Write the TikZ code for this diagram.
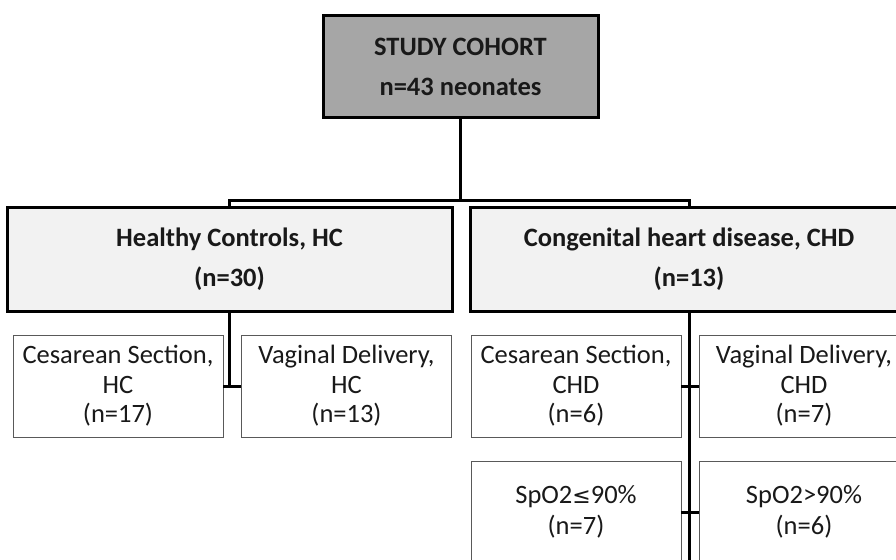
\documentclass[tikz,border=0pt]{standalone}
\usepackage{fontspec}
\setmainfont{Carlito}
\newfontfamily\symfont{DejaVu Sans}
\begin{document}
\begin{tikzpicture}[x=1pt,y=-1pt,
  txt/.style={text=black!90},
  bigbox/.style={draw=black, line width=3pt, inner sep=0pt, align=center, txt,
     font=\bfseries\fontsize{26.5}{39.5}\selectfont},
  smallbox/.style={draw=black!65, line width=0.9pt, fill=white, inner sep=0pt, align=center, txt,
     minimum width=210pt, minimum height=102pt, font=\fontsize{26.5}{29.5}\selectfont},
  conn/.style={draw=black, line width=3pt}]
\useasboundingbox (0,0) rectangle (896,559);
\clip (0,0) rectangle (896,559);
\fill[white] (0,0) rectangle (896,559);
% top
\node[bigbox, fill=black!35, minimum width=275pt, minimum height=102pt] (top) at (460.5,67) {STUDY COHORT\\n=43 neonates};
\node[bigbox, fill=black!5, minimum width=445pt, minimum height=104pt] (hc) at (229.5,259) {Healthy Controls, HC\\(n=30)};
\node[bigbox, fill=black!5, minimum width=438pt, minimum height=104pt] (chd) at (689,259) {Congenital heart disease, CHD\\(n=13)};
\coordinate (j) at (460.5,200);
\draw[conn] (top.south) -- (j);
\draw[conn] (hc.north) |- (j) -| (chd.north);
% HC children
\node[smallbox] (hcs) at (118,386) {Cesarean Section,\\HC\\(n=17)};
\node[smallbox] (hcv) at (346.5,386) {Vaginal Delivery,\\HC\\(n=13)};
\draw[conn] (hc.south) -- (hc.south |- hcs.east);
\draw[conn] (hcs.east) -- (hcv.west);
% CHD children
\node[smallbox] (cs) at (576,386) {Cesarean Section,\\CHD\\(n=6)};
\node[smallbox] (cv) at (804,386) {Vaginal Delivery,\\CHD\\(n=7)};
\node[smallbox, font=\fontsize{26.5}{31}\selectfont] (sl) at (576,512) {SpO2{\symfont\fontsize{22}{31}\selectfont ≤}90\%\\(n=7)};
\node[smallbox, font=\fontsize{26.5}{31}\selectfont] (sg) at (804,512) {SpO2>90\%\\(n=6)};
\coordinate (bot) at (689,565);
\draw[conn] (chd.south) -- (bot);
\draw[conn] (cs.east) -- (cv.west);
\draw[conn] (sl.east) -- (sg.west);
\end{tikzpicture}
\end{document}
